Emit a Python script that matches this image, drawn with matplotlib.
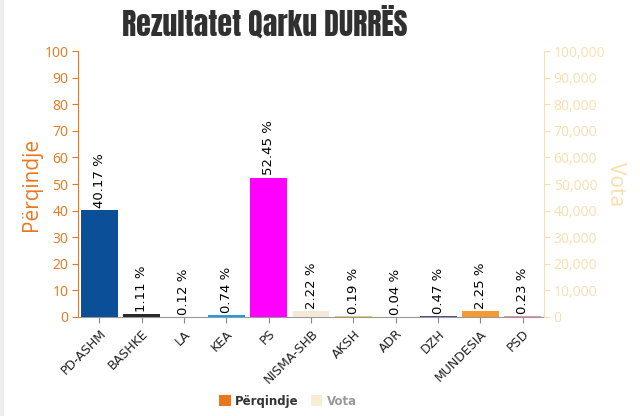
import matplotlib
matplotlib.use("Agg")
import matplotlib.pyplot as plt
from matplotlib.patches import Patch, Rectangle
from matplotlib.ticker import FuncFormatter, MultipleLocator

parties = ["PD-ASHM", "BASHKE", "LA", "KEA", "PS", "NISMA-SHB", "AKSH", "ADR", "DZH", "MUNDESIA", "PSD"]
percent = [40.17, 1.11, 0.12, 0.74, 52.45, 2.22, 0.19, 0.04, 0.47, 2.25, 0.23]
colors = ["#0b4f99", "#2a2a2a", "#e8b4c4", "#1e9fe0", "#ff00ff", "#f4e9d6",
          "#d9cf6a", "#a8a8b8", "#5c4b8c", "#f59a30", "#e394a6"]

title = "Rezultatet Qarku DURRËS"
left_label = "Përqindje"
right_label = "Vota"

ORANGE = "#e8771e"
LIGHT = "#f9dfae"

plt.rcParams["font.family"] = ["Open Sans", "DejaVu Sans"]

fig = plt.figure(figsize=(6.4, 4.16), dpi=100)
fig.patch.set_facecolor("white")
fig.patches.append(Rectangle((0, 0), 4 / 640, 1, transform=fig.transFigure,
                             facecolor="#ececec", edgecolor="none", zorder=0))
ax = fig.add_axes([0.122, 0.238, 0.728, 0.639])
ax2 = ax.twinx()

x = list(range(len(parties)))
ax.bar(x, percent, width=0.87, color=colors, zorder=3)
for xi, v in zip(x, percent):
    ax.text(xi, v + 0.8, f"{v:.2f} %", rotation=90, ha="center", va="bottom",
            fontsize=9.5, color="black", zorder=4, family="DejaVu Sans")

ax.set_xlim(-0.5, len(parties) - 0.5)
ax.set_ylim(0, 100)
ax.yaxis.set_major_locator(MultipleLocator(10))
ax.set_xticks(x)
ax.set_xticklabels(parties, rotation=45, ha="right", rotation_mode="anchor",
                   fontsize=9, color="#222222", family="DejaVu Sans")
ax.tick_params(axis="x", colors="#888888", length=4, labelcolor="#222222")
ax.tick_params(axis="y", colors=ORANGE, labelsize=10, length=4, pad=3)
ax.set_ylabel(left_label, color=ORANGE, fontsize=15, labelpad=2)

ax2.set_ylim(0, 100000)
ax2.yaxis.set_major_locator(MultipleLocator(10000))
ax2.yaxis.set_major_formatter(FuncFormatter(lambda v, p: f"{int(v):,}"))
ax2.tick_params(axis="y", colors=LIGHT, labelsize=10, length=4, pad=3)
ax2.set_ylabel(right_label, color=LIGHT, fontsize=15, rotation=270, labelpad=15)

for a in (ax, ax2):
    a.spines["top"].set_visible(False)
ax.spines["right"].set_visible(False)
ax2.spines["left"].set_visible(False)
ax2.spines["bottom"].set_visible(False)
ax.spines["left"].set_color(ORANGE)
ax2.spines["right"].set_color(LIGHT)
ax.spines["bottom"].set_color("#999999")

fig.text(0.414, 0.945, title, ha="center", va="center", fontsize=21.5,
         color="#303030", family=["Anton", "DejaVu Sans"])

handles = [Patch(facecolor=ORANGE, edgecolor="none"), Patch(facecolor="#f8ecd4", edgecolor="none")]
leg = fig.legend(handles, [left_label, right_label], loc="center", bbox_to_anchor=(0.45, 0.036),
                 ncol=2, frameon=False, handlelength=1.0, handleheight=1.0,
                 columnspacing=1.0, handletextpad=0.4,
                 prop={"family": "DejaVu Sans", "weight": "bold", "size": 8.5})
txts = leg.get_texts()
txts[0].set_color("#333333")
txts[1].set_color("#999999")

fig.savefig("out.png", dpi=100, facecolor="white")
